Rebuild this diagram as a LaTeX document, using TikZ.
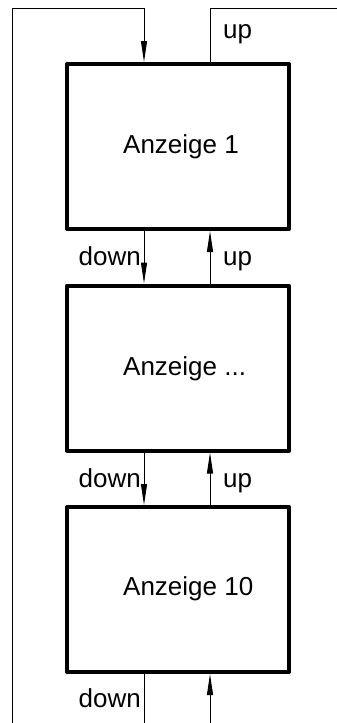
\documentclass[tikz,border=0pt]{standalone}
\usepackage{fontspec}
\setmainfont{Liberation Sans}
\usetikzlibrary{arrows.meta}
\begin{document}
\begin{tikzpicture}[x=1pt,y=-1pt,
  boxnode/.style={draw,line width=4pt,line join=round,minimum width=222pt,minimum height=165pt,inner sep=0pt},
  wire/.style={line width=1pt},
  arr/.style={wire,-{Triangle[length=21pt,width=6pt]}},
  lbl/.style={font=\fontsize{26}{30}\selectfont,inner sep=0pt}]
\useasboundingbox (0,0) rectangle (337,723);
\node[boxnode] (b1) at (178,146.5) {};
\node[boxnode] (b2) at (178,368) {};
\node[boxnode] (b3) at (178,589.5) {};
\node[lbl,anchor=base west] (t1) at (123,153) {Anzeige 1};
\node[lbl,anchor=base west] (t2) at (123,375) {Anzeige ...};
\node[lbl,anchor=base west] (t3) at (123,595) {Anzeige 10};
\coordinate (tl) at (12,8);
\coordinate (tdown) at (144,8);
\coordinate (tup) at (210,8);
\coordinate (tr) at (337,8);
\coordinate (bl) at (12,723);
\coordinate (bdown) at (144,723);
\coordinate (bup) at (210,723);
\draw[wire] (bl) -- (tl) -- (tdown);
\draw[arr] (tdown) -- (b1.north -| tdown);
\draw[wire] (b1.north -| tup) -- (tup) -- (tr);
\draw[arr] (b1.south -| tdown) -- (b2.north -| tdown);
\draw[arr] (b2.north -| tup) -- (b1.south -| tup);
\draw[arr] (b2.south -| tdown) -- (b3.north -| tdown);
\draw[arr] (b3.north -| tup) -- (b2.south -| tup);
\draw[wire] (b3.south -| tdown) -- (bdown);
\draw[arr] (bup) -- (b3.south -| tup);
\node[lbl,anchor=base west] (u0) at (223,38) {up};
\node[lbl,anchor=base east] (d1) at (141,265) {down};
\node[lbl,anchor=base west] (u1) at (223,265) {up};
\node[lbl,anchor=base east] (d2) at (141,487) {down};
\node[lbl,anchor=base west] (u2) at (223,487) {up};
\node[lbl,anchor=base east] (d3) at (141,707) {down};
\end{tikzpicture}
\end{document}
